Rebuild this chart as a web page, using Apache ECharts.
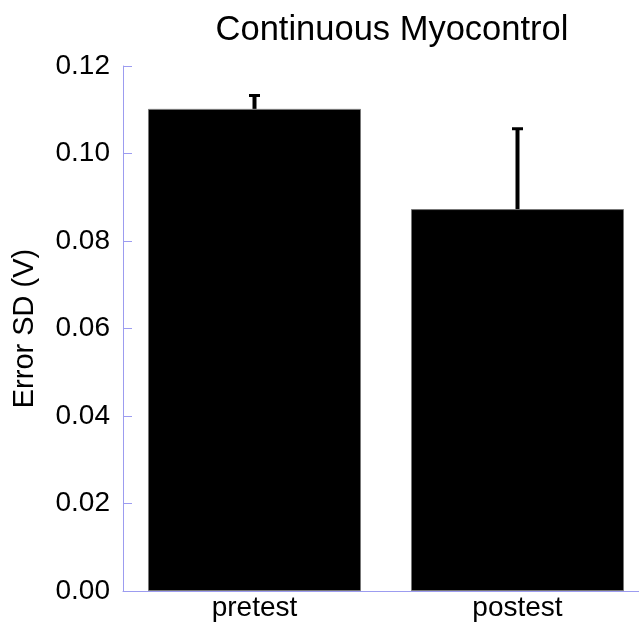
<!DOCTYPE html>
<html>
<head>
<meta charset="utf-8">
<script src="https://cdn.jsdelivr.net/npm/echarts@6/dist/echarts.min.js"></script>
<style>
  html, body { margin: 0; padding: 0; background: #fff; overflow: hidden; }
  /* the plot runs a little past the right edge of the picture, as in the reference */
  #chart { width: 649px; height: 622px; }
</style>
</head>
<body>
<div id="chart"></div>
<script>
  // values
  var categories = ['pretest', 'postest']
  var meanValues = [0.1102, 0.0873]
  var errValues = [0.0034, 0.0187]
  var yTicks = { min: 0, max: 0.12, interval: 0.02 }

  var axisColor = '#9c9cf0'
  var font = '"Liberation Sans", Arial, sans-serif'

  var chart = echarts.init(document.getElementById('chart'))

  var errData = categories.map(function (c, i) {
    return [i, meanValues[i], meanValues[i] + errValues[i]]
  })

  var options = {
    animation: false,
    title: {
      text: 'Continuous Myocontrol',
      left: 387,
      top: 8,
      textAlign: 'center',
      textStyle: { fontFamily: font, fontSize: 34.5, fontWeight: 'normal', color: '#000' }
    },
    grid: { left: 123, right: 0, top: 66, bottom: 31 },
    xAxis: {
      type: 'category',
      data: categories,
      axisLine: { lineStyle: { color: axisColor, width: 1 } },
      axisTick: { inside: true, length: 7, lineStyle: { color: axisColor } },
      axisLabel: { fontFamily: font, fontSize: 28, color: '#000', margin: 3 }
    },
    yAxis: {
      type: 'value',
      min: yTicks.min,
      max: yTicks.max,
      interval: yTicks.interval,
      name: 'Error SD (V)',
      nameLocation: 'middle',
      nameGap: 84,
      nameTextStyle: { fontFamily: font, fontSize: 29, color: '#000' },
      splitLine: { show: false },
      axisLine: { show: true, lineStyle: { color: axisColor, width: 1 } },
      axisTick: { show: true, inside: true, length: 9, lineStyle: { color: axisColor } },
      axisLabel: {
        fontFamily: font, fontSize: 28, color: '#000', margin: 13,
        formatter: function (v) { return v.toFixed(2) }
      }
    },
    series: [
      {
        type: 'bar',
        data: meanValues,
        barCategoryGap: '19%',
        itemStyle: { color: '#000', borderColor: '#777', borderWidth: 1 }
      },
      {
        type: 'custom',
        data: errData,
        z: 3,
        renderItem: function (params, api) {
          var base = api.coord([api.value(0), api.value(1)])
          var top = api.coord([api.value(0), api.value(2)])
          var x = base[0]
          return {
            type: 'group',
            children: [
              {
                type: 'line',
                shape: { x1: x, y1: base[1], x2: x, y2: top[1] + 2 },
                style: { stroke: '#000', lineWidth: 4 }
              },
              {
                type: 'line',
                shape: { x1: x - 5.5, y1: top[1] + 1.5, x2: x + 5.5, y2: top[1] + 1.5 },
                style: { stroke: '#000', lineWidth: 3 }
              }
            ]
          }
        }
      }
    ]
  }

  chart.setOption(options)
</script>
</body>
</html>
